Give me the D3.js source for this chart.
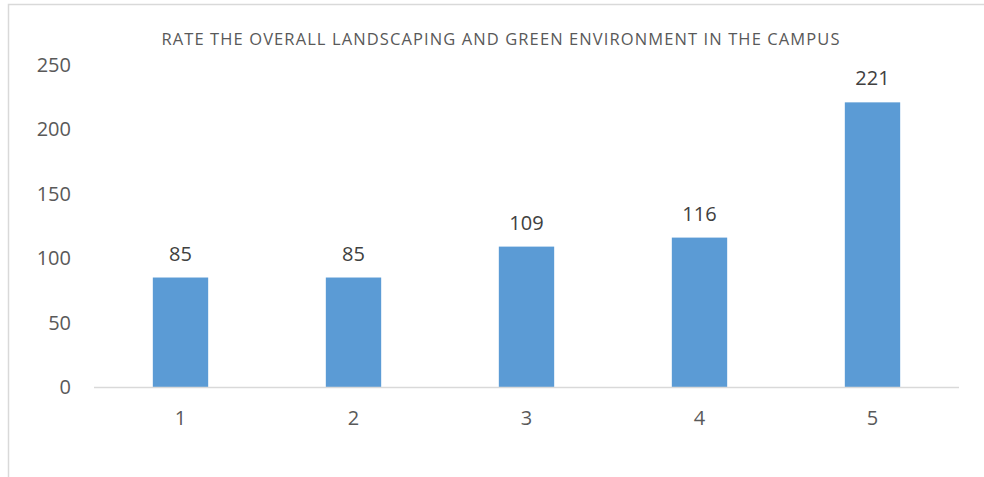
<!DOCTYPE html>
<html lang="en">
<head>
<meta charset="utf-8">
<title>Landscaping rating</title>
<script src="https://cdn.jsdelivr.net/npm/d3@7"></script>
<style>
  body { margin: 0; background: #fff; }
  svg { display: block; }
</style>
</head>
<body>
<script>
// data
var categories = ["1", "2", "3", "4", "5"];
var counts = [85, 85, 109, 116, 221];
var yTicks = [0, 50, 100, 150, 200, 250];
var title = "RATE THE OVERALL LANDSCAPING AND GREEN ENVIRONMENT IN THE CAMPUS";

var width = 984, height = 477;
var font = "'Open Sans', 'Liberation Sans', sans-serif";

var svg = d3.select("body").append("svg")
    .attr("width", width)
    .attr("height", height);

// outer frame (left and top edges visible)
svg.append("path")
    .attr("d", "M8.5,477 V4.5 H984")
    .attr("fill", "none")
    .attr("stroke", "#d9d9d9")
    .attr("stroke-width", 1.5);

var x = d3.scaleBand()
    .domain(categories)
    .range([94, 959])
    .paddingInner(0.68)
    .paddingOuter(0.34);

var y = d3.scaleLinear()
    .domain([0, 250])
    .range([387, 65]);

// title
svg.append("text")
    .attr("x", 501)
    .attr("y", 45)
    .attr("text-anchor", "middle")
    .attr("font-family", font)
    .attr("font-size", "16.5px")
    .attr("letter-spacing", "1.1px")
    .attr("fill", "#595959")
    .text(title);

// y labels
svg.selectAll("text.ytick")
    .data(yTicks)
    .enter()
    .append("text")
    .attr("class", "ytick")
    .attr("x", 71)
    .attr("y", function(d) { return y(d); })
    .attr("dy", "0.35em")
    .attr("text-anchor", "end")
    .attr("font-family", font)
    .attr("font-size", "20px")
    .attr("fill", "#595959")
    .text(function(d) { return d; });

// bars
svg.selectAll("rect.bar")
    .data(counts)
    .enter()
    .append("rect")
    .attr("class", "bar")
    .attr("x", function(d, i) { return x(categories[i]); })
    .attr("y", function(d) { return y(d); })
    .attr("width", x.bandwidth())
    .attr("height", function(d) { return y(0) - y(d); })
    .attr("fill", "#5b9bd5");

// baseline
svg.append("line")
    .attr("x1", 94).attr("x2", 959)
    .attr("y1", y(0) + 0.5).attr("y2", y(0) + 0.5)
    .attr("stroke", "#d9d9d9")
    .attr("stroke-width", 1.5);

// x labels
svg.selectAll("text.xtick")
    .data(categories)
    .enter()
    .append("text")
    .attr("class", "xtick")
    .attr("x", function(d) { return x(d) + x.bandwidth() / 2; })
    .attr("y", 425)
    .attr("text-anchor", "middle")
    .attr("font-family", font)
    .attr("font-size", "20px")
    .attr("fill", "#595959")
    .text(function(d) { return d; });

// value labels
svg.selectAll("text.val")
    .data(counts)
    .enter()
    .append("text")
    .attr("class", "val")
    .attr("x", function(d, i) { return x(categories[i]) + x.bandwidth() / 2; })
    .attr("y", function(d) { return y(d) - 17; })
    .attr("text-anchor", "middle")
    .attr("font-family", font)
    .attr("font-size", "20px")
    .attr("fill", "#404040")
    .text(function(d) { return d; });
</script>
</body>
</html>
